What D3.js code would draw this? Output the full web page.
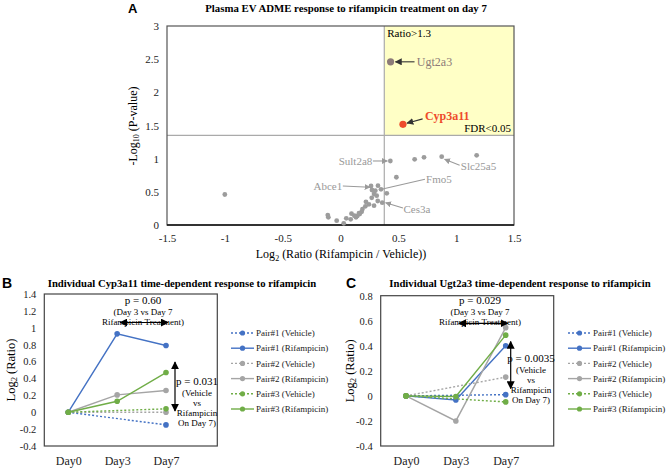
<!DOCTYPE html>
<html><head><meta charset="utf-8">
<script src="https://cdn.jsdelivr.net/npm/d3@7"></script>
<style>
body{margin:0;background:#fff}
svg{display:block}
</style>
</head><body>
<svg id="c" width="668" height="469"></svg>
<script>
// ---------- Panel A data ----------
const aTitle = "Plasma EV ADME response to rifampicin treatment on day 7";
const aXTicks = [-1.5, -1, -0.5, 0, 0.5, 1, 1.5];
const aYTicks = [0, 0.5, 1, 1.5, 2, 2.5, 3];
const ratioThreshold = Math.log2(1.3);   // Ratio>1.3
const fdrThreshold = 1.35;               // FDR<0.05
const aLog2Ratio = [0.431,0.641,0.722,0.875,1.177,0.483,-1.0,
  0.264,0.324,0.272,0.301,0.35,0.40,0.29,0.313,0.27,0.322,0.361,0.246,0.29,0.215,0.22,
  0.19,0.183,0.166,0.145,0.134,0.16,0.088,0.095,-0.033,-0.105,-0.11,0.028,0.12,0.05];
const aNegLogP = [0.965,0.99,1.02,1.03,1.05,0.72,0.46,
  0.588,0.593,0.528,0.518,0.538,0.477,0.467,0.442,0.41,0.362,0.336,0.312,0.291,0.282,0.35,
  0.24,0.2,0.166,0.136,0.116,0.18,0.086,0.17,0.065,0.116,0.15,0.025,0.14,0.1];
const hiGenes = ["Ugt2a3", "Cyp3a11"];
const hiLog2Ratio = [0.433, 0.54];
const hiNegLogP = [2.46, 1.518];

// ---------- Panels B / C data ----------
const days = ["Day0", "Day3", "Day7"];
const seriesNames = ["Pair#1 (Vehicle)", "Pair#1 (Rifampicin)", "Pair#2 (Vehicle)",
  "Pair#2 (Rifampicin)", "Pair#3 (Vehicle)", "Pair#3 (Rifampicin)"];
const seriesColors = ["#4472C4", "#4472C4", "#A5A5A5", "#A5A5A5", "#70AD47", "#70AD47"];
const seriesDotted = [true, false, true, false, true, false];
const cypValues = [
  [0, null, -0.15],
  [0, 0.928, 0.79],
  [0, null, 0.0],
  [0, 0.205, 0.257],
  [0, null, 0.04],
  [0, 0.13, 0.47]
];
const ugtValues = [
  [0, null, 0.01],
  [0, -0.032, 0.40],
  [0, null, 0.15],
  [0, -0.2, 0.545],
  [0, null, -0.048],
  [0, -0.005, 0.485]
];
const bYTicks = [-0.4, -0.2, 0, 0.2, 0.4, 0.6, 0.8, 1, 1.2, 1.4];
const cYTicks = [-0.4, -0.2, 0, 0.2, 0.4, 0.6, 0.8];

const SERIF = '"Liberation Serif", "Times New Roman", Times, "DejaVu Serif", serif';
const SANS = '"Liberation Sans", Arial, sans-serif';

const svg = d3.select("#c");
const defs = svg.append("defs");
function mk(id, color, size) {
  defs.append("marker").attr("id", id).attr("viewBox", "0 0 10 10")
    .attr("refX", 9).attr("refY", 5).attr("markerWidth", size).attr("markerHeight", size)
    .attr("orient", "auto-start-reverse").attr("markerUnits", "userSpaceOnUse")
    .append("path").attr("d", "M0,0 L10,5 L0,10 z").attr("fill", color);
}
mk("arrDark", "#333", 7);
mk("arrGray", "#9a9a9a", 6);
mk("arrBlack", "#000", 8);

// ================= Panel A =================
const ax = d3.scaleLinear().domain([-1.5, 1.5]).range([167, 514]);
const ay = d3.scaleLinear().domain([0, 3]).range([225, 26]);
const A = svg.append("g");

A.append("text").attr("class", "letter").attr("x", 128).attr("y", 13).text("A")
  .attr("font-weight", "bold").attr("font-size", 13);
A.append("text").attr("x", 346).attr("y", 12).attr("text-anchor", "middle")
  .attr("font-weight", "bold").attr("font-size", 10.8).text(aTitle);

A.append("rect").attr("x", ax(ratioThreshold)).attr("y", ay(3))
  .attr("width", ax(1.5) - ax(ratioThreshold)).attr("height", ay(fdrThreshold) - ay(3))
  .attr("fill", "#FFFFC6");
A.append("line").attr("x1", ax(ratioThreshold)).attr("x2", ax(ratioThreshold))
  .attr("y1", ay(3)).attr("y2", ay(0)).attr("stroke", "#aaa").attr("stroke-width", 1.2);
A.append("line").attr("x1", ax(-1.5)).attr("x2", ax(1.5))
  .attr("y1", ay(fdrThreshold)).attr("y2", ay(fdrThreshold)).attr("stroke", "#aaa").attr("stroke-width", 1.2);
A.append("rect").attr("x", ax(-1.5)).attr("y", ay(3)).attr("width", ax(1.5) - ax(-1.5))
  .attr("height", ay(0) - ay(3)).attr("fill", "none").attr("stroke", "#555").attr("stroke-width", 1.2);
A.append("line").attr("x1", ax(-1.5)).attr("x2", ax(1.5)).attr("y1", ay(0)).attr("y2", ay(0))
  .attr("stroke", "#111").attr("stroke-width", 1.5);

const axA = A.append("g").attr("transform", `translate(0,${ay(0)})`)
  .call(d3.axisBottom(ax).tickValues(aXTicks).tickFormat(d => String(d)).tickSize(0).tickPadding(9));
const ayA = A.append("g").attr("transform", `translate(${ax(-1.5)},0)`)
  .call(d3.axisLeft(ay).tickValues(aYTicks).tickFormat(d => String(d)).tickSize(0).tickPadding(8));
[axA, ayA].forEach(g => {
  g.select(".domain").remove();
  g.selectAll("text").attr("font-size", 11).attr("fill", "#222");
});

const ylab = A.append("text").attr("transform", `translate(133,126) rotate(-90)`)
  .attr("text-anchor", "middle").attr("font-size", 12).attr("dominant-baseline", "central");
ylab.append("tspan").text("-Log");
ylab.append("tspan").attr("font-size", 8).attr("dy", 3).text("10");
ylab.append("tspan").attr("dy", -3).text(" (P-value)");
const xlab = A.append("text").attr("x", 341).attr("y", 258).attr("text-anchor", "middle").attr("font-size", 12);
xlab.append("tspan").text("Log");
xlab.append("tspan").attr("font-size", 8).attr("dy", 3).text("2");
xlab.append("tspan").attr("dy", -3).text(" (Ratio (Rifampicin / Vehicle))");

A.append("text").attr("x", ax(ratioThreshold) + 3).attr("y", ay(3) + 11).attr("font-size", 11).text("Ratio>1.3");
A.append("text").attr("x", ax(1.5) - 3).attr("y", ay(fdrThreshold) - 3).attr("text-anchor", "end")
  .attr("font-size", 11).text("FDR<0.05");

A.selectAll("circle.pt").data(aLog2Ratio).join("circle").attr("class", "pt")
  .attr("cx", d => ax(d)).attr("cy", (d, i) => ay(aNegLogP[i])).attr("r", 2.4).attr("fill", "#9c9c9c");
const hiColors = ["#8C7B78", "#EE4B2B"];
A.selectAll("circle.hi").data(hiGenes).join("circle").attr("class", "hi")
  .attr("cx", (d, i) => ax(hiLog2Ratio[i])).attr("cy", (d, i) => ay(hiNegLogP[i])).attr("r", 3.6)
  .attr("fill", (d, i) => hiColors[i]);

function arrow(g, x1, y1, x2, y2, m, color) {
  g.append("line").attr("x1", ax(x1)).attr("y1", ay(y1)).attr("x2", ax(x2)).attr("y2", ay(y2))
    .attr("stroke", color).attr("stroke-width", 1.1).attr("marker-end", m ? `url(#${m})` : null);
}
arrow(A, 0.64, 2.46, 0.475, 2.46, "arrDark", "#333");
A.append("text").attr("x", ax(0.66)).attr("y", ay(2.46)).attr("dy", "0.35em").attr("font-size", 12)
  .attr("fill", "#8C7B78").text("Ugt2a3");
arrow(A, 0.71, 1.6, 0.575, 1.535, "arrDark", "#333");
A.append("text").attr("x", ax(0.73)).attr("y", ay(1.64)).attr("dy", "0.35em").attr("font-size", 12)
  .attr("fill", "#EE4B2B").attr("font-weight", "bold").text("Cyp3a11");
A.append("text").attr("x", ax(0.275)).attr("y", ay(0.965)).attr("dy", "0.35em").attr("text-anchor", "end")
  .attr("font-size", 11).attr("fill", "#999").text("Sult2a8");
arrow(A, 0.28, 0.965, 0.405, 0.965, "arrGray", "#9a9a9a");
A.append("text").attr("x", ax(1.04)).attr("y", ay(0.88)).attr("dy", "0.35em")
  .attr("font-size", 11).attr("fill", "#999").text("Slc25a5");
arrow(A, 1.03, 0.9, 0.9, 0.99, "arrGray", "#9a9a9a");
A.append("text").attr("x", ax(0.74)).attr("y", ay(0.69)).attr("dy", "0.35em")
  .attr("font-size", 11).attr("fill", "#999").text("Fmo5");
arrow(A, 0.73, 0.69, 0.345, 0.535, null, "#9a9a9a");
A.append("text").attr("x", ax(0.015)).attr("y", ay(0.588)).attr("dy", "0.35em").attr("text-anchor", "end")
  .attr("font-size", 11).attr("fill", "#999").text("Abce1");
arrow(A, 0.02, 0.588, 0.255, 0.57, "arrGray", "#9a9a9a");
A.append("text").attr("x", ax(0.545)).attr("y", ay(0.235)).attr("dy", "0.35em")
  .attr("font-size", 11).attr("fill", "#999").text("Ces3a");
arrow(A, 0.54, 0.255, 0.39, 0.335, "arrGray", "#9a9a9a");

// ================= Panels B and C =================
function linePanel(opt) {
  const g = svg.append("g");
  const x = d3.scalePoint().domain(days).range(opt.xr);
  const y = d3.scaleLinear().domain(opt.yd).range(opt.yr);
  g.append("text").attr("class", "letter").attr("x", opt.letterX).attr("y", 288).text(opt.letter)
    .attr("font-weight", "bold").attr("font-size", 14);
  g.append("text").attr("x", opt.titleX).attr("y", 287).attr("text-anchor", "middle")
    .attr("font-weight", "bold").attr("font-size", 10.7).text(opt.title);
  g.append("rect").attr("x", opt.frame[0]).attr("y", y(opt.yd[1])).attr("width", opt.frame[1] - opt.frame[0])
    .attr("height", y(opt.yd[0]) - y(opt.yd[1])).attr("fill", "none").attr("stroke", "#444").attr("stroke-width", 1.2);
  const ya = g.append("g").attr("transform", `translate(${opt.frame[0]},0)`)
    .call(d3.axisLeft(y).tickValues(opt.yticks).tickFormat(d => String(d)).tickSize(0).tickPadding(8));
  const xa = g.append("g").attr("transform", `translate(0,${y(opt.yd[0])})`)
    .call(d3.axisBottom(x).tickSize(0).tickPadding(10));
  [ya, xa].forEach(a => {
    a.select(".domain").remove();
    a.selectAll("text").attr("fill", "#222");
  });
  ya.selectAll("text").attr("font-size", 10.5);
  xa.selectAll("text").attr("font-size", 12);
  const yl = g.append("text").attr("transform", `translate(${opt.ylabX},${(y(opt.yd[0]) + y(opt.yd[1])) / 2}) rotate(-90)`)
    .attr("text-anchor", "middle").attr("dominant-baseline", "central").attr("font-size", 12.5);
  yl.append("tspan").text("Log");
  yl.append("tspan").attr("font-size", 8.5).attr("dy", 3).text("2");
  yl.append("tspan").attr("dy", -3).text(" (Ratio)");

  const line = d3.line().x(d => x(d.day)).y(d => y(d.v));
  opt.values.forEach((vals, i) => {
    const pts = vals.map((v, j) => ({ day: days[j], v })).filter(d => d.v !== null);
    g.append("path").attr("d", line(pts)).attr("fill", "none").attr("stroke", seriesColors[i])
      .attr("stroke-width", 1.4).attr("stroke-dasharray", seriesDotted[i] ? "2,2" : null);
    g.selectAll(null).data(pts).join("circle").attr("cx", d => x(d.day)).attr("cy", d => y(d.v))
      .attr("r", 2.8).attr("fill", seriesColors[i]);
  });
  seriesNames.forEach((name, i) => {
    const ly = 333 + i * 15.2;
    g.append("line").attr("x1", opt.legX).attr("x2", opt.legX + 23).attr("y1", ly).attr("y2", ly)
      .attr("stroke", seriesColors[i]).attr("stroke-width", 1.4).attr("stroke-dasharray", seriesDotted[i] ? "2,2" : null);
    g.append("circle").attr("cx", opt.legX + 11.5).attr("cy", ly).attr("r", 2.6).attr("fill", seriesColors[i]);
    g.append("text").attr("x", opt.legX + 25).attr("y", ly).attr("dy", "0.35em").attr("font-size", 9)
      .attr("fill", "#222").text(name);
  });
  const a = opt.ann;
  g.append("text").attr("x", a.p1x).attr("y", a.p1y).attr("text-anchor", "middle").attr("font-size", 11).text(a.p1);
  g.append("text").attr("x", a.p1x).attr("y", a.p1y + 11).attr("text-anchor", "middle").attr("font-size", 9).text("(Day 3 vs Day 7");
  g.append("text").attr("x", a.p1x).attr("y", a.p1y + 21).attr("text-anchor", "middle").attr("font-size", 9).text("Rifampicin Treatment)");
  g.append("line").attr("x1", x("Day3") + 3).attr("x2", x("Day7") + 2).attr("y1", a.hy).attr("y2", a.hy)
    .attr("stroke", "#000").attr("stroke-width", 1.2).attr("marker-start", "url(#arrBlack)").attr("marker-end", "url(#arrBlack)");
  g.append("line").attr("x1", a.vx).attr("x2", a.vx).attr("y1", a.vy1).attr("y2", a.vy2)
    .attr("stroke", "#000").attr("stroke-width", 1.2).attr("marker-start", "url(#arrBlack)").attr("marker-end", "url(#arrBlack)");
  g.append("text").attr("x", a.p2x).attr("y", a.p2y).attr("text-anchor", "middle").attr("font-size", 11).text(a.p2);
  ["(Vehicle", "vs", "Rifampicin", "On Day 7)"].forEach((t, k) => {
    g.append("text").attr("x", a.p2x).attr("y", a.p2y + 10.5 + k * 10).attr("text-anchor", "middle")
      .attr("font-size", 9).text(t);
  });
}

linePanel({
  letter: "B", letterX: 2, title: "Individual Cyp3a11 time-dependent response to rifampicin", titleX: 182,
  xr: [68.3, 166], yd: [-0.4, 1.4], yr: [446, 294], frame: [44.3, 217.3], yticks: bYTicks, ylabX: 11,
  values: cypValues, legX: 231,
  ann: { p1: "p = 0.60", p1x: 143, p1y: 304, hy: 322.5, vx: 175, vy1: 362, vy2: 411,
         p2: "p = 0.031", p2x: 197, p2y: 385 }
});
linePanel({
  letter: "C", letterX: 346, title: "Individual Ugt2a3 time-dependent response to rifampicin", titleX: 520,
  xr: [406, 505.7], yd: [-0.4, 0.8], yr: [446, 295.7], frame: [380.7, 553.7], yticks: cYTicks, ylabX: 350,
  values: ugtValues, legX: 568,
  ann: { p1: "p = 0.029", p1x: 480, p1y: 304, hy: 323.3, vx: 510.7, vy1: 341.5, vy2: 388.5,
         p2: "p = 0.0035", p2x: 531, p2y: 362 }
});

svg.selectAll("text").style("font-family", SERIF);
svg.selectAll("text.letter").style("font-family", SANS);
</script>
</body></html>
